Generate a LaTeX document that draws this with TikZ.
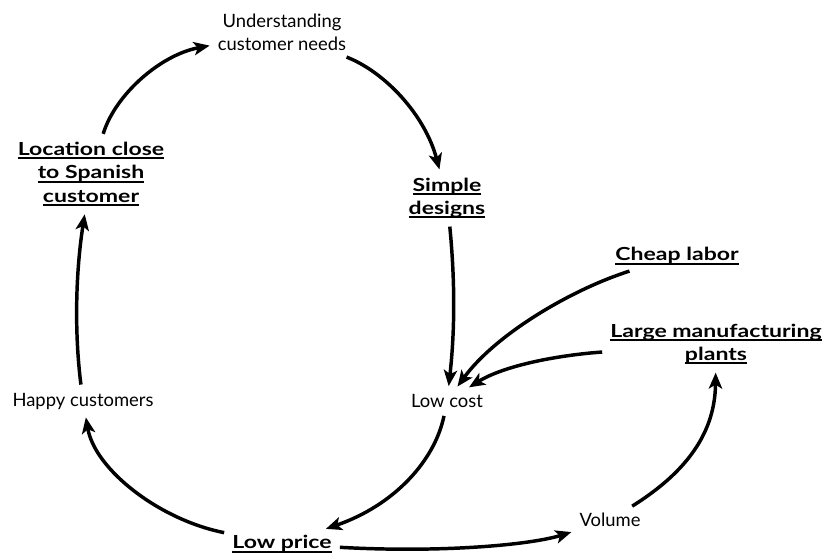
\documentclass[tikz,border=0pt]{standalone}
\usepackage{fontspec}
\setmainfont{Lato}[BoldFeatures={FakeStretch=1.28}]
\usetikzlibrary{arrows.meta}
\newcommand\ulin[1]{\setbox0\hbox{#1}\rlap{\rule[-3pt]{\wd0}{1.4pt}}\box0}
\begin{document}
\begin{tikzpicture}[x=0.75pt,y=-0.75pt,
  lbl/.style={align=center,inner sep=4pt,font=\fontsize{13.8}{17.5}\selectfont},
  blbl/.style={lbl,font=\fontsize{13.5}{17.5}\selectfont\bfseries},
  arr/.style={line width=2.6pt,-{Stealth[length=12pt,width=10pt,inset=3pt]},shorten <=2pt,shorten >=2pt}]
\useasboundingbox (0,0) rectangle (825,557);
\node[lbl] (und) at (282,32) {Understanding\\customer needs};
\node[blbl] (loc) at (91,174) {\ulin{Location close}\\\ulin{to Spanish}\\\ulin{customer}};
\node[blbl] (sim) at (447,198) {\ulin{Simple}\\\ulin{designs}};
\node[blbl] (cheap) at (677,256) {\ulin{Cheap labor}};
\node[blbl] (large) at (716,344) {\ulin{Large manufacturing}\\\ulin{plants}};
\node[lbl] (happy) at (83,401) {Happy customers};
\node[lbl] (cost) at (447,401) {Low cost};
\node[blbl] (price) at (282,544) {\ulin{Low price}};
\node[lbl] (vol) at (610,520) {Volume};
\draw[arr] (loc) .. controls (115,95) and (160,55) .. (und);
\draw[arr] (und) .. controls (385,72) and (425,115) .. (sim);
\draw[arr] (sim) .. controls (455,280) and (455,330) .. (cost);
\draw[arr] (cheap) .. controls (570,290) and (495,335) .. (cost);
\draw[arr] (large) .. controls (560,355) and (505,365) .. (cost);
\draw[arr] (cost) .. controls (435,460) and (395,505) .. (price);
\draw[arr] (price) .. controls (160,520) and (95,470) .. (happy);
\draw[arr] (happy) .. controls (74,330) and (76,270) .. (loc);
\draw[arr] (price) .. controls (440,553) and (530,545) .. (vol);
\draw[arr] (vol) .. controls (690,470) and (715,430) .. (large);
\end{tikzpicture}
\end{document}
